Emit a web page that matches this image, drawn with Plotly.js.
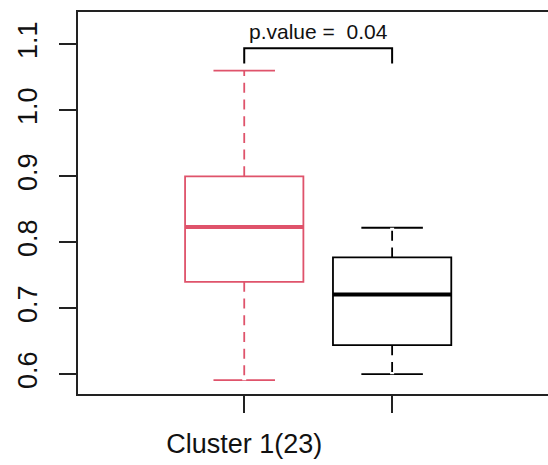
<!DOCTYPE html>
<html>
<head>
<meta charset="utf-8">
<script src="https://cdn.plot.ly/plotly-3.0.1.min.js"></script>
<style>html,body{margin:0;padding:0;background:#fff;}#chart{width:548px;height:465px;}</style>
</head>
<body>
<div id="chart"></div>
<script>
// ---- data ----
const groupPos = [1, 2];
const tickLabels = ["Cluster 1(23)", ""];
const boxColors = ["#DF536B", "#000000"];
const lowerWhisker = [0.591, 0.600];
const q1Values = [0.740, 0.644];
const medianValues = [0.823, 0.721];
const q3Values = [0.900, 0.777];
const upperWhisker = [1.060, 0.822];
const bracketX = [1, 2];
const bracketTop = 1.094;
const bracketBottom = 1.071;
const pValueText = "p.value = \u00a00.04";
const yTicks = [0.6, 0.7, 0.8, 0.9, 1.0, 1.1];
const yTickText = ["0.6", "0.7", "0.8", "0.9", "1.0", "1.1"];

const boxWidth = 0.8;
const traces = [];
groupPos.forEach((x, i) => {
  traces.push({
    type: 'box', x: [x], q1: [q1Values[i]], median: [medianValues[i]], q3: [q3Values[i]],
    lowerfence: [lowerWhisker[i]], upperfence: [upperWhisker[i]],
    width: boxWidth, whiskerwidth: 0.52, boxpoints: false,
    fillcolor: 'rgba(0,0,0,0)', line: {color: boxColors[i], width: 1.8},
    hoverinfo: 'skip', showlegend: false
  });
});
// white dash overlays to turn whiskers into dashed lines
groupPos.forEach((x, i) => {
  traces.push({
    type: 'scatter', mode: 'lines', x: [x, x], y: [q3Values[i], upperWhisker[i]],
    line: {color: '#ffffff', width: 4, dash: '0px,10px,6.7px,0px'}, hoverinfo: 'skip', showlegend: false
  });
  traces.push({
    type: 'scatter', mode: 'lines', x: [x, x], y: [q1Values[i], lowerWhisker[i]],
    line: {color: '#ffffff', width: 4, dash: '0px,10px,6.7px,0px'}, hoverinfo: 'skip', showlegend: false
  });
  // thick median
  traces.push({
    type: 'scatter', mode: 'lines', x: [x - boxWidth / 2, x + boxWidth / 2], y: [medianValues[i], medianValues[i]],
    line: {color: boxColors[i], width: 4}, hoverinfo: 'skip', showlegend: false
  });
});
// significance bracket
traces.push({
  type: 'scatter', mode: 'lines',
  x: [bracketX[0], bracketX[0], bracketX[1], bracketX[1]],
  y: [bracketBottom, bracketTop, bracketTop, bracketBottom],
  line: {color: '#000', width: 2}, hoverinfo: 'skip', showlegend: false
});

const font = 'Liberation Sans, Arial, sans-serif';
const layout = {
  width: 548, height: 465,
  margin: {l: 78, r: 0, t: 12, b: 71},
  paper_bgcolor: '#fff', plot_bgcolor: '#fff',
  showlegend: false,
  boxmode: 'overlay',
  font: {family: font, color: '#111'},
  xaxis: {
    range: [-0.124, 3.054], tickmode: 'array', tickvals: groupPos, ticktext: tickLabels,
    showgrid: false, zeroline: false, showline: true, mirror: true, linecolor: '#222', linewidth: 2,
    ticks: 'outside', ticklen: 17, tickwidth: 2, tickcolor: '#222',
    tickfont: {size: 27, family: font, color: '#111'}, ticklabelstandoff: 8
  },
  yaxis: {
    range: [0.570, 1.149], tickmode: 'array', tickvals: yTicks, ticktext: yTickText,
    showgrid: false, zeroline: false, showline: true, mirror: false, linecolor: '#222', linewidth: 2,
    ticks: 'outside', ticklen: 17, tickwidth: 2, tickcolor: '#222', tickangle: -90,
    tickfont: {size: 27, family: font, color: '#111'}, ticklabelstandoff: 11
  },
  annotations: [{
    x: (bracketX[0] + bracketX[1]) / 2, y: bracketTop, xref: 'x', yref: 'y',
    text: pValueText, showarrow: false, yanchor: 'bottom', yshift: 3,
    font: {size: 21, family: font, color: '#111'}
  }]
};
Plotly.newPlot('chart', traces, layout, {staticPlot: true, displayModeBar: false});
</script>
</body>
</html>
